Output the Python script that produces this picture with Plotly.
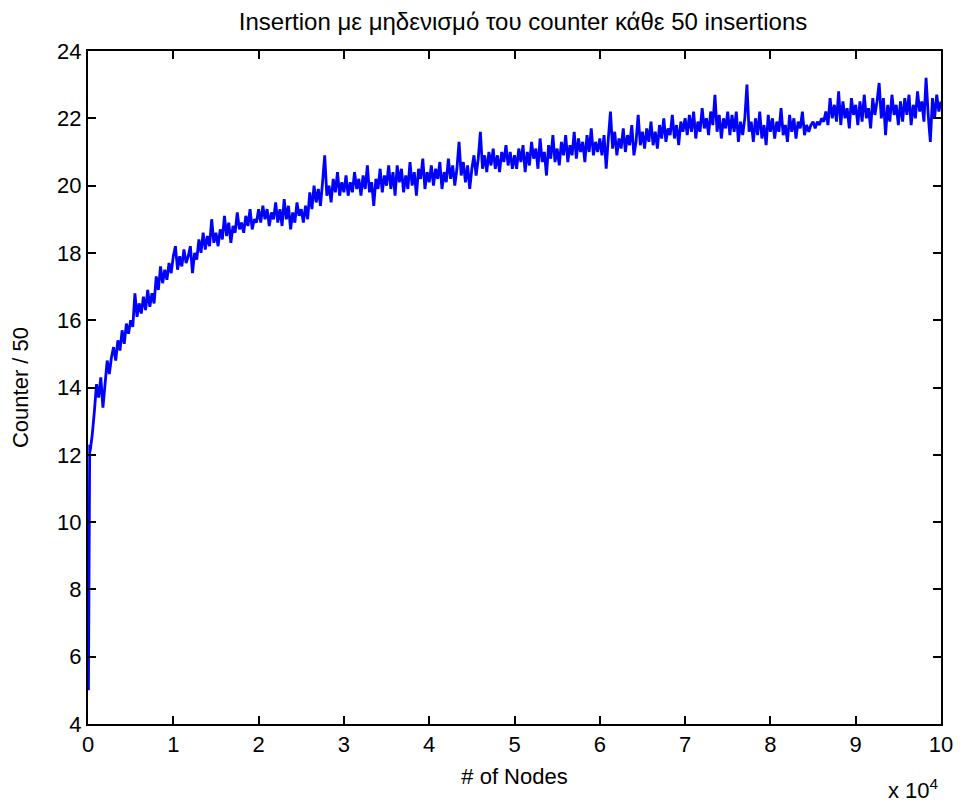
import plotly.graph_objects as go

# x positions (# of nodes)
nodes_early = [50, 100, 150, 200]
nodes_main = list(range(250, 100001, 250))

# Counter / 50 values
counter_early = [5.0, 9.8, 11.4, 12.3]
counter_main = [
    12.1, 12.6, 13.3, 14.1, 13.7, 14.3, 13.4, 14.2, 14.8, 14.4, 14.9, 15.2, 14.8, 15.4, 15.1, 15.7, 15.3, 15.9, 15.6, 16.0,
    15.8, 16.8, 16.1, 16.5, 16.2, 16.7, 16.3, 16.9, 16.4, 16.8, 16.5, 17.3, 16.9, 17.6, 17.1, 17.5, 17.2, 17.7, 17.4, 17.9,
    18.2, 17.5, 17.9, 17.6, 18.1, 17.7, 17.9, 18.2, 17.4, 18.0, 17.8, 18.4, 18.0, 18.6, 18.1, 18.5, 18.2, 19.0, 18.3, 18.6,
    18.2, 18.7, 18.4, 19.1, 18.5, 18.9, 18.3, 18.8, 18.6, 19.2, 18.7, 18.9, 18.6, 19.1, 18.8, 19.3, 18.7, 19.0, 18.9, 19.3,
    18.9, 19.4, 19.0, 19.3, 18.8, 19.2, 19.0, 19.5, 18.9, 19.3, 18.8, 19.6, 19.0, 19.4, 18.7, 19.2, 18.9, 19.5, 19.1, 19.3,
    18.9, 19.4, 19.0, 19.8, 19.3, 20.0, 19.5, 19.9, 19.4, 20.1, 20.9, 19.7, 20.0, 19.5, 20.2, 19.8, 20.4, 19.7, 20.1, 19.8,
    20.3, 19.7, 20.1, 19.8, 20.4, 19.9, 20.2, 19.7, 20.3, 19.9, 20.6, 19.8, 20.1, 19.4, 20.2, 19.9, 20.5, 19.8, 20.3, 20.0,
    20.6, 19.9, 20.4, 19.7, 20.6, 20.1, 20.5, 19.8, 20.3, 19.9, 20.7, 20.0, 20.4, 19.7, 20.5, 20.2, 20.8, 19.9, 20.4, 20.1,
    20.6, 20.0, 20.5, 20.2, 20.7, 19.9, 20.4, 20.1, 20.8, 20.2, 20.6, 20.0, 20.5, 21.3, 20.3, 20.7, 20.1, 20.6, 19.9, 20.5,
    20.9, 20.3, 20.8, 21.6, 20.5, 20.9, 20.4, 21.0, 20.6, 21.1, 20.5, 20.9, 20.4, 21.0, 20.7, 21.2, 20.6, 21.0, 20.5, 20.9,
    20.5, 21.1, 20.7, 21.2, 20.4, 21.0, 20.6, 21.3, 20.8, 21.1, 20.5, 21.4, 20.7, 21.0, 20.3, 21.2, 20.8, 21.5, 20.7, 21.1,
    20.6, 21.3, 20.9, 21.5, 20.7, 21.2, 20.9, 21.6, 20.8, 21.4, 21.0, 21.3, 20.7, 21.5, 21.0, 21.7, 20.9, 21.3, 21.0, 21.4,
    20.9, 21.5, 20.5, 21.4, 22.2, 21.1, 21.6, 20.9, 21.4, 21.1, 21.7, 21.0, 21.5, 21.2, 21.8, 20.9, 21.3, 22.1, 21.2, 21.6,
    21.1, 21.7, 21.3, 21.9, 21.2, 21.6, 21.1, 21.8, 21.4, 22.0, 21.3, 21.7, 21.5, 22.1, 21.4, 21.8, 21.2, 21.9, 21.6, 22.0,
    21.5, 22.1, 21.6, 22.2, 21.4, 21.9, 21.6, 22.3, 21.7, 22.0, 21.5, 22.2, 21.8, 22.7, 21.6, 22.1, 21.4, 22.0, 21.7, 22.2,
    21.5, 22.1, 21.6, 22.2, 21.3, 21.9, 21.5, 22.0, 23.0, 21.6, 21.9, 21.3, 22.0, 21.5, 22.2, 21.4, 21.8, 21.2, 22.1, 21.6,
    22.0, 21.4, 21.9, 21.6, 22.3, 21.5, 21.8, 21.3, 22.1, 21.6, 22.0, 21.4, 21.9, 21.7, 22.2, 21.5, 21.8, 21.6, 21.8, 21.9,
    21.7, 21.9, 21.8, 22.0, 21.9, 22.2, 21.8, 22.6, 22.0, 22.4, 21.9, 22.8, 21.8, 22.5, 22.0, 22.3, 21.7, 22.6, 22.1, 22.4,
    21.8, 22.5, 21.9, 22.7, 22.0, 22.3, 21.7, 22.6, 22.1, 22.5, 23.05, 22.0, 22.6, 21.5, 22.4, 21.9, 22.7, 22.1, 22.4, 21.8,
    22.5, 21.9, 22.6, 22.1, 22.7, 21.8, 22.4, 22.0, 22.8, 22.2, 22.5, 21.9, 23.2, 22.1, 21.3, 22.6, 22.0, 22.7, 22.2, 22.5,
]

x_tick_vals = [0, 10000, 20000, 30000, 40000, 50000, 60000, 70000, 80000, 90000, 100000]
x_tick_text = ["0", "1", "2", "3", "4", "5", "6", "7", "8", "9", "10"]
y_tick_vals = [4, 6, 8, 10, 12, 14, 16, 18, 20, 22, 24]

x = nodes_early + nodes_main
y = counter_early + counter_main

FONT = "Liberation Sans, Arial, sans-serif"
TICK_SIZE = 22

fig = go.Figure()
fig.add_trace(go.Scatter(
    x=x, y=y, mode="lines",
    line=dict(color="#0000ff", width=2.8),
    showlegend=False, hoverinfo="skip",
))

axis_common = dict(
    showline=True, linecolor="black", linewidth=2,
    mirror="ticks", ticks="inside", ticklen=8, tickwidth=1.5, tickcolor="black",
    showgrid=False, zeroline=False,
    tickfont=dict(family=FONT, size=TICK_SIZE, color="black"),
)

fig.update_layout(
    width=965, height=811,
    margin=dict(l=88, r=19, t=51, b=87),
    paper_bgcolor="white", plot_bgcolor="white",
    font=dict(family=FONT, color="black"),
    title=dict(
        text="Insertion με μηδενισμό του counter κάθε 50 insertions",
        x=0.51, xanchor="center", xref="paper", y=0.973, yanchor="middle",
        font=dict(family=FONT, size=24, color="black"),
    ),
    xaxis=dict(
        range=[0, 100000], tickmode="array", tickvals=x_tick_vals, ticktext=x_tick_text,
        title=dict(text="# of Nodes", font=dict(family=FONT, size=TICK_SIZE), standoff=12),
        **axis_common,
    ),
    yaxis=dict(
        range=[4, 24], tickmode="array", tickvals=y_tick_vals,
        title=dict(text="Counter / 50", font=dict(family=FONT, size=TICK_SIZE), standoff=22),
        **axis_common,
    ),
    annotations=[dict(
        text="x 10<sup>4</sup>", xref="paper", yref="paper", x=1.0, y=-0.121,
        xanchor="right", yanchor="bottom", showarrow=False,
        font=dict(family=FONT, size=TICK_SIZE, color="black"),
    )],
)

fig.write_html("out.html")
